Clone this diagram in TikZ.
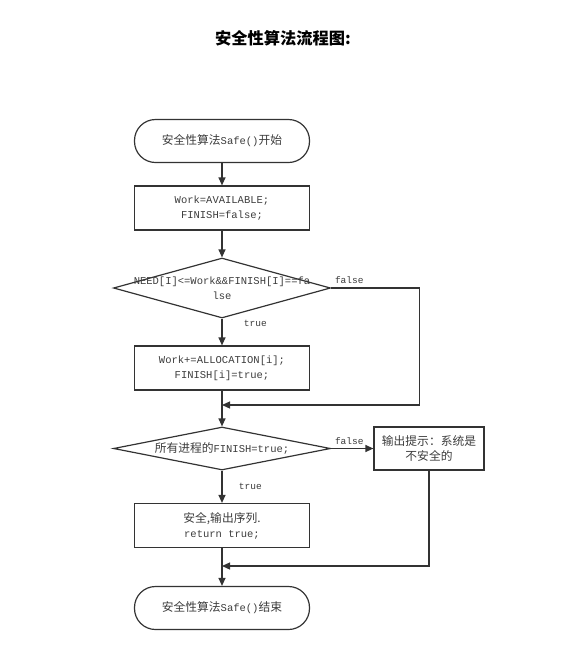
\documentclass[tikz,border=0pt]{standalone}
\usepackage{fontspec}
\setmainfont{Liberation Mono}
\newfontfamily\cjk[Scale=1.12]{Noto Sans CJK SC}
\usepackage{tikz}
\usetikzlibrary{shapes.geometric, arrows.meta}
\definecolor{linegray}{HTML}{333333}
\definecolor{textgray}{HTML}{3C3C3C}

\begin{document}
\begin{tikzpicture}[x=1pt, y=-1pt,
    every node/.style={text=textgray, font=\fontsize{10.5}{15}\selectfont},
    terminal/.style={draw=linegray, line width=1.2pt, rounded corners=21pt,
        minimum width=175pt, minimum height=43pt, align=center},
    process/.style={draw=linegray, line width=1.2pt,
        minimum width=175pt, minimum height=44pt, align=center},
    decision/.style={draw=linegray, line width=1.2pt, diamond,
        minimum width=217pt, minimum height=60pt, inner sep=0pt},
    flow/.style={draw=linegray, line width=1.2pt, -{Triangle[length=8pt,width=7pt]}},
    branch/.style={font=\fontsize{9.5}{11}\selectfont}]

                  \useasboundingbox (0,0) rectangle (563,665);

                  % Title
                  \node[text=black, font=\cjk\bfseries\fontsize{14.5}{17}\selectfont] (title) at (283,38) {安全性算法流程图:};

                  % Define nodes
                  \node[terminal] (start) at (222,141) {{\cjk 安全性算法}Safe(){\cjk 开始}};
                  \node[process] (init) at (222,208) {Work=AVAILABLE;\\FINISH=false;};
                  \node[decision] (check) at (222,288) {};
                  \node[align=center] (checktext) at (check) {NEED[I]<=Work\&\&FINISH[I]==fa\\lse};
                  \node[process] (alloc) at (222,368) {Work+=ALLOCATION[i];\\FINISH[i]=true;};
                  \node[decision, minimum height=43pt] (all) at (222,448.5) {};
                  \node (alltext) at (all) {{\cjk 所有进程的}FINISH=true;};
                  \node[process, minimum width=110pt, minimum height=43pt] (unsafe) at (429,448.5) {{\cjk 输出提示：系统是}\\{\cjk 不安全的}};
                  \node[process] (safe) at (222,525.5) {{\cjk 安全,输出序列.}\\return true;};
                  \node[terminal] (end) at (222,608) {{\cjk 安全性算法}Safe(){\cjk 结束}};

                  % Define points
                  \coordinate (loop) at (222,405);
                  \coordinate (merge) at (222,566);

                  % Draw connectors
                  \draw[flow] (start) -- (init);
                  \draw[flow] (init) -- (check);
                  \draw[flow] (check.south) -- node[branch, pos=0.18, right=18pt] {true} (alloc.north);
                  \draw[flow] (check.east) -- node[branch, pos=0, anchor=south west] {false} ++(88,0) |- (loop);
                  \draw[flow] (alloc) -- (all);
                  \draw[flow] (all.east) -- node[branch, pos=0, anchor=south west] {false} (unsafe.west);
                  \draw[flow] (all.south) -- node[branch, pos=0.48, right=13pt] {true} (safe.north);
                  \draw[flow] (unsafe.south) |- (merge);
                  \draw[flow] (safe) -- (end);

              \end{tikzpicture}
\end{document}
